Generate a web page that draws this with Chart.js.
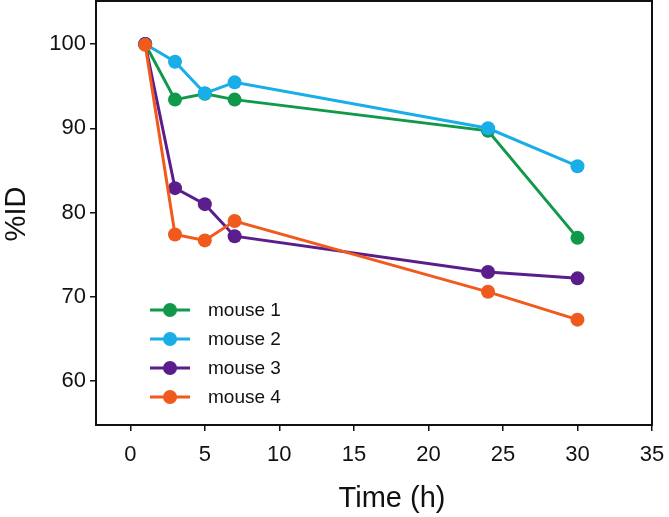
<!DOCTYPE html>
<html>
<head>
<meta charset="utf-8">
<script src="https://cdn.jsdelivr.net/npm/chart.js@4/dist/chart.umd.min.js"></script>
<style>
  html, body { margin: 0; padding: 0; background: #fff; }
  #wrap { width: 669px; height: 517px; }
</style>
</head>
<body>
<div id="wrap"><canvas id="c" width="669" height="517"></canvas></div>
<script>
const times = [1, 3, 5, 7, 24, 30];
const mouse1 = [100, 93.4, 94.1, 93.4, 89.7, 77.0];
const mouse2 = [100, 97.9, 94.15, 95.45, 90.0, 85.5];
const mouse3 = [100, 82.9, 81.0, 77.2, 72.95, 72.2];
const mouse4 = [99.9, 77.4, 76.7, 79.0, 70.6, 67.3];
const seriesNames = ['mouse 1', 'mouse 2', 'mouse 3', 'mouse 4'];
const seriesColors = ['#10994a', '#1aaee8', '#5b1d8c', '#f05a1c'];
const xTicks = [0, 5, 10, 15, 20, 25, 30, 35];
const yTicks = [60, 70, 80, 90, 100];
const xTitle = 'Time (h)';
const yTitle = '%ID';

const allSeries = [mouse1, mouse2, mouse3, mouse4];
const FONT = '"Liberation Sans", Arial, sans-serif';

const datasets = allSeries.map((vals, i) => ({
  label: seriesNames[i],
  data: vals.map((v, j) => ({ x: times[j], y: v })),
  borderColor: seriesColors[i],
  backgroundColor: seriesColors[i],
  pointBackgroundColor: seriesColors[i],
  pointBorderColor: seriesColors[i],
  borderWidth: 3,
  pointRadius: 7,
  pointBorderWidth: 0,
  tension: 0,
  order: allSeries.length - i
}));

const framePlugin = {
  id: 'frame',
  afterDatasetsDraw(chart) {
    const { ctx, chartArea: a } = chart;
    ctx.save();
    ctx.strokeStyle = '#111';
    ctx.lineWidth = 2;
    ctx.strokeRect(a.left, a.top, a.right - a.left, a.bottom - a.top);
    // legend inside plot
    ctx.font = '19px ' + FONT;
    ctx.textBaseline = 'middle';
    ctx.textAlign = 'left';
    chart.data.datasets.forEach((ds, i) => {
      const y = 310 + i * 29;
      ctx.strokeStyle = ds.borderColor;
      ctx.lineWidth = 3;
      ctx.beginPath();
      ctx.moveTo(150, y);
      ctx.lineTo(190, y);
      ctx.stroke();
      ctx.fillStyle = ds.borderColor;
      ctx.beginPath();
      ctx.arc(170, y, 7, 0, Math.PI * 2);
      ctx.fill();
      ctx.fillStyle = '#111';
      ctx.fillText(ds.label, 208, y + 1);
    });
    // axis titles
    ctx.fillStyle = '#111';
    ctx.font = '29px ' + FONT;
    ctx.textAlign = 'center';
    ctx.textBaseline = 'alphabetic';
    ctx.fillText(xTitle, 392, 507);
    ctx.save();
    ctx.translate(25, 214);
    ctx.rotate(-Math.PI / 2);
    ctx.fillText(yTitle, 0, 0);
    ctx.restore();
    ctx.restore();
  }
};

new Chart(document.getElementById('c'), {
  type: 'line',
  data: { datasets },
  options: {
    responsive: false,
    animation: false,
    devicePixelRatio: 1,
    layout: { autoPadding: false, padding: { left: 0, right: 17, top: 1, bottom: 0 } },
    plugins: { legend: { display: false }, tooltip: { enabled: false } },
    scales: {
      x: {
        type: 'linear',
        min: -2.3,
        max: 35,
        afterBuildTicks: s => { s.ticks = xTicks.map(v => ({ value: v })); },
        afterFit: s => { s.height = 92; s.paddingLeft = 0; s.paddingRight = 0; },
        grid: { display: true, drawOnChartArea: false, drawTicks: true, tickLength: 6, color: '#111', lineWidth: 1.5 },
        border: { display: true, color: '#111', width: 2 },
        ticks: { color: '#111', font: { family: FONT, size: 22 }, padding: 11, maxRotation: 0 }
      },
      y: {
        type: 'linear',
        min: 54.8,
        max: 105.1,
        afterBuildTicks: s => { s.ticks = yTicks.map(v => ({ value: v })); },
        afterFit: s => { s.width = 96; s.paddingTop = 0; s.paddingBottom = 0; },
        grid: { display: true, drawOnChartArea: false, drawTicks: true, tickLength: 6, color: '#111', lineWidth: 1.5 },
        border: { display: true, color: '#111', width: 2 },
        ticks: { color: '#111', font: { family: FONT, size: 22 }, padding: 4 }
      }
    }
  },
  plugins: [framePlugin]
});
</script>
</body>
</html>
